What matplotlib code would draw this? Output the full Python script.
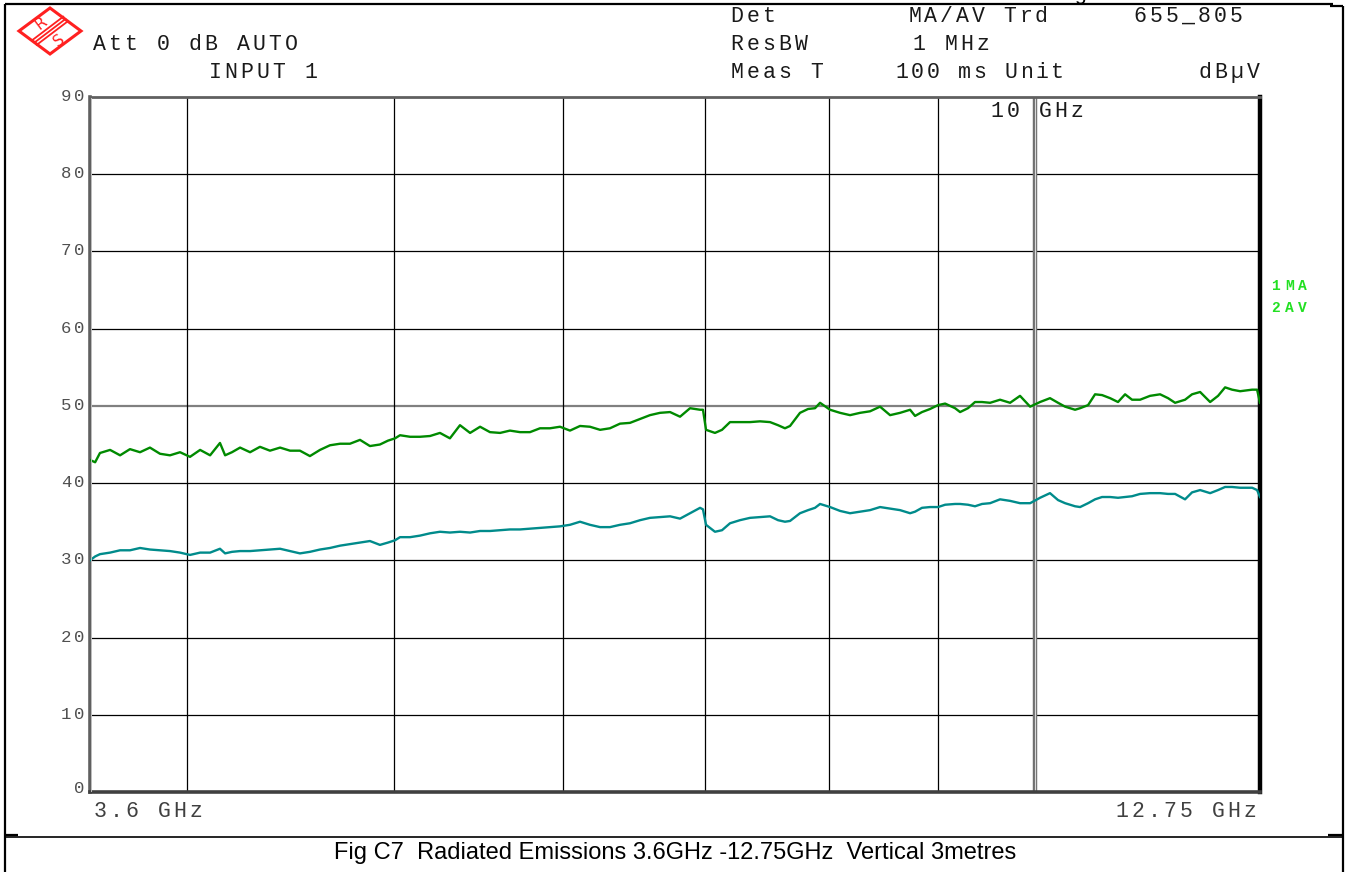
import numpy as np
import matplotlib
matplotlib.use("Agg")
import matplotlib.pyplot as plt
from matplotlib.patches import Polygon

# sweep frequencies (GHz) and the two detector traces (dBuV)
freq_ghz = [3.600, 3.620, 3.639, 3.679, 3.719, 3.759, 3.800, 3.841, 3.883, 3.925,
            3.968, 4.011, 4.055, 4.099, 4.143, 4.166, 4.197, 4.234, 4.280, 4.326,
            4.373, 4.421, 4.469, 4.517, 4.566, 4.616, 4.666, 4.717, 4.768, 4.820,
            4.872, 4.925, 4.968, 5.006, 5.033, 5.088, 5.143, 5.199, 5.255, 5.312,
            5.370, 5.429, 5.488, 5.547, 5.608, 5.668, 5.730, 5.792, 5.855, 5.919,
            5.983, 6.048, 6.114, 6.180, 6.248, 6.315, 6.384, 6.453, 6.524, 6.594,
            6.666, 6.739, 6.812, 6.886, 6.961, 6.983, 7.006, 7.074, 7.128, 7.190,
            7.268, 7.347, 7.427, 7.508, 7.573, 7.630, 7.672, 7.755, 7.823, 7.882,
            7.925, 8.011, 8.098, 8.186, 8.275, 8.365, 8.456, 8.548, 8.641, 8.735,
            8.782, 8.848, 8.926, 9.003, 9.072, 9.170, 9.220, 9.299, 9.370, 9.441,
            9.524, 9.627, 9.732, 9.837, 9.945, 10.052, 10.161, 10.250, 10.328, 10.440,
            10.497, 10.588, 10.668, 10.749, 10.843, 10.936, 11.020, 11.103, 11.200, 11.321,
            11.445, 11.544, 11.632, 11.758, 11.847, 11.951, 12.081, 12.185, 12.278, 12.371,
            12.479, 12.642, 12.710, 12.750]

trace_ma = [43.0, 42.7, 43.9, 44.3, 43.6, 44.4, 44.0, 44.6, 43.8, 43.6,
            44.0, 43.4, 44.3, 43.6, 45.2, 43.6, 44.0, 44.6, 44.0, 44.7,
            44.2, 44.6, 44.2, 44.2, 43.5, 44.3, 44.9, 45.1, 45.1, 45.6,
            44.8, 45.0, 45.5, 45.8, 46.2, 46.0, 46.0, 46.1, 46.5, 45.8,
            47.5, 46.5, 47.3, 46.6, 46.5, 46.8, 46.6, 46.6, 47.1, 47.1,
            47.3, 46.8, 47.4, 47.3, 46.9, 47.1, 47.7, 47.8, 48.3, 48.8,
            49.1, 49.2, 48.6, 49.7, 49.5, 49.5, 46.9, 46.5, 46.9, 47.9,
            47.9, 47.9, 48.0, 47.9, 47.5, 47.1, 47.4, 49.1, 49.6, 49.7,
            50.4, 49.5, 49.1, 48.8, 49.1, 49.3, 49.9, 48.8, 49.1, 49.5,
            48.7, 49.2, 49.6, 50.1, 50.3, 49.7, 49.2, 49.7, 50.5, 50.5,
            50.4, 50.8, 50.4, 51.3, 49.9, 50.5, 51.0, 50.4, 49.9, 49.5,
            49.7, 50.1, 51.5, 51.4, 51.0, 50.5, 51.5, 50.8, 50.8, 51.3,
            51.5, 51.0, 50.4, 50.8, 51.5, 51.8, 50.5, 51.3, 52.4, 52.1,
            51.9, 52.1, 52.1, 50.4]

trace_av = [30.0, 30.5, 30.8, 31.0, 31.3, 31.3, 31.6, 31.4, 31.3, 31.2,
            31.0, 30.7, 31.0, 31.0, 31.5, 30.9, 31.1, 31.2, 31.2, 31.3,
            31.4, 31.5, 31.2, 30.9, 31.1, 31.4, 31.6, 31.9, 32.1, 32.3,
            32.5, 32.0, 32.3, 32.6, 33.0, 33.0, 33.2, 33.5, 33.7, 33.6,
            33.7, 33.6, 33.8, 33.8, 33.9, 34.0, 34.0, 34.1, 34.2, 34.3,
            34.4, 34.6, 35.0, 34.6, 34.3, 34.3, 34.6, 34.8, 35.2, 35.5,
            35.6, 35.7, 35.4, 36.1, 36.8, 36.6, 34.6, 33.7, 33.9, 34.8,
            35.2, 35.5, 35.6, 35.7, 35.2, 35.0, 35.1, 36.1, 36.5, 36.8,
            37.3, 36.9, 36.4, 36.1, 36.3, 36.5, 36.9, 36.7, 36.5, 36.1,
            36.3, 36.8, 36.9, 36.9, 37.2, 37.3, 37.3, 37.2, 37.0, 37.3,
            37.4, 37.9, 37.7, 37.4, 37.4, 38.1, 38.7, 37.8, 37.4, 37.0,
            36.9, 37.4, 37.9, 38.2, 38.2, 38.1, 38.2, 38.3, 38.6, 38.7,
            38.7, 38.6, 38.6, 37.9, 38.8, 39.1, 38.7, 39.1, 39.5, 39.5,
            39.4, 39.4, 39.1, 38.2]

f_start, f_stop = 3.6, 12.75
level_ticks = [0, 10, 20, 30, 40, 50, 60, 70, 80, 90]
freq_grid = [4, 5, 6, 7, 8, 9]

W, H = 1351, 872
fig = plt.figure(figsize=(W / 100, H / 100), dpi=100)
fig.patch.set_facecolor("white")

# diagram area
x0, x1, ytop, ybot = 90, 1260, 97, 792
ax = fig.add_axes([x0 / W, (H - ybot) / H, (x1 - x0) / W, (ybot - ytop) / H])
ax.set_xscale("log")
ax.set_xlim(f_start, f_stop)
ax.set_ylim(0, 90)
ax.set_xticks([])
ax.set_yticks([])
ax.minorticks_off()
ax.tick_params(which="both", length=0, labelbottom=False, labelleft=False)

for lv in level_ticks[1:-1]:
    if lv == 50:
        ax.axhline(lv, color="#808080", lw=1.6, zorder=1)
    else:
        ax.axhline(lv, color="black", lw=0.9, zorder=1)
for f in freq_grid:
    ax.axvline(f, color="black", lw=0.9, zorder=1)
# marker line at 10 GHz
ax.axvline(10, color="#707070", lw=3.2, zorder=1)
ax.axvline(10, color="#d8d8d8", lw=0.8, zorder=1)

ax.plot(freq_ghz, trace_ma, color="#008a00", lw=1.7, zorder=3)
ax.plot(freq_ghz, trace_av, color="#008b8b", lw=1.7, zorder=3)

ax.spines["left"].set_color("#606060")
ax.spines["left"].set_linewidth(2.6)
ax.spines["top"].set_color("#606060")
ax.spines["top"].set_linewidth(2.0)
ax.spines["bottom"].set_color("#404040")
ax.spines["bottom"].set_linewidth(2.6)
ax.spines["right"].set_color("black")
ax.spines["right"].set_linewidth(3.2)

# overlay in pixel coordinates for the instrument annotations
ov = fig.add_axes([0, 0, 1, 1])
ov.set_xlim(0, W)
ov.set_ylim(H, 0)
ov.axis("off")
ov.plot([91.2, 91.2], [ytop + 1, ybot - 1], color="#c0c0c0", lw=0.7)

mono = "Liberation Mono"


def spaced(x, y, s, pitch=16, size=15.5, color="#1a1a1a", weight="normal", family=mono):
    # one glyph per character cell, y is the baseline
    for i, ch in enumerate(s):
        if ch != " ":
            ov.text(x + i * pitch + pitch / 2 - 1, y, ch, fontsize=size, color=color,
                    family=family, weight=weight, ha="center", va="baseline")


spaced(92, 50, "Att 0 dB AUTO")
spaced(208, 78, "INPUT 1")
spaced(730, 22, "Det")
spaced(908, 22, "MA/AV Trd", pitch=15.8)
spaced(1133, 22, "655_805")
spaced(730, 50, "ResBW")
spaced(912, 50, "1 MHz")
spaced(730, 78, "Meas T")
spaced(895, 78, "100 ms Unit", pitch=15.6)
spaced(1198, 78, "dB\u00b5V")
spaced(990, 117, "10 GHz")
spaced(93, 817, "3.6 GHz", color="#404040")
spaced(1115, 817, "12.75 GHz", color="#404040")
spaced(1270, 290, "1MA", pitch=13.5, size=10.5, color="#22e022", weight="bold")
spaced(1270, 312, "2AV", pitch=13.5, size=10.5, color="#22e022", weight="bold")

px_per_db = (ybot - ytop) / 90
for lv in level_ticks:
    lab = str(lv)
    py = ybot - lv * px_per_db + (1 if lv == 0 else 4)
    spaced(86 - 12.5 * len(lab), py, lab, pitch=12.5, size=12.5, color="#505050")

# R&S logo
logo = Polygon([[19, 31], [50, 8], [81, 31], [50, 54]], closed=True,
               fill=False, edgecolor="#ff2020", lw=2.2)
ov.add_patch(logo)
for d in (-2.3, 0, 2.3):
    ov.plot([34.5 + d, 65.5 + d], [42.5 + d, 19 + d], color="#ff2020", lw=1.3)
ov.text(41, 23, "R", fontsize=11, color="#ff2020", family="DejaVu Sans",
        rotation=37, ha="center", va="center")
ov.text(59, 40, "S", fontsize=11, color="#ff2020", family="DejaVu Sans",
        rotation=37, ha="center", va="center")

# page frame and caption box
frame = dict(color="black", lw=1.6, solid_capstyle="butt")
ov.plot([5, 1333], [4, 4], **frame)
ov.plot([1330, 1343], [6, 6], **frame)
ov.plot([5, 5], [4, H], **frame)
ov.plot([1342.5, 1342.5], [6, H], **frame)
ov.plot([5, 1342], [837, 837], color="black", lw=1.2)
ov.plot([5, 18], [834.5, 834.5], **frame)
ov.plot([1328, 1342], [834.5, 834.5], **frame)
ov.text(1080, 0, "g", fontsize=15, family="Liberation Sans", ha="center", va="baseline")

ov.text(675, 853, "Fig C7  Radiated Emissions 3.6GHz -12.75GHz  Vertical 3metres",
        fontsize=17, family="Liberation Sans", ha="center", va="center", color="black")

fig.savefig("out.png", dpi=100)
